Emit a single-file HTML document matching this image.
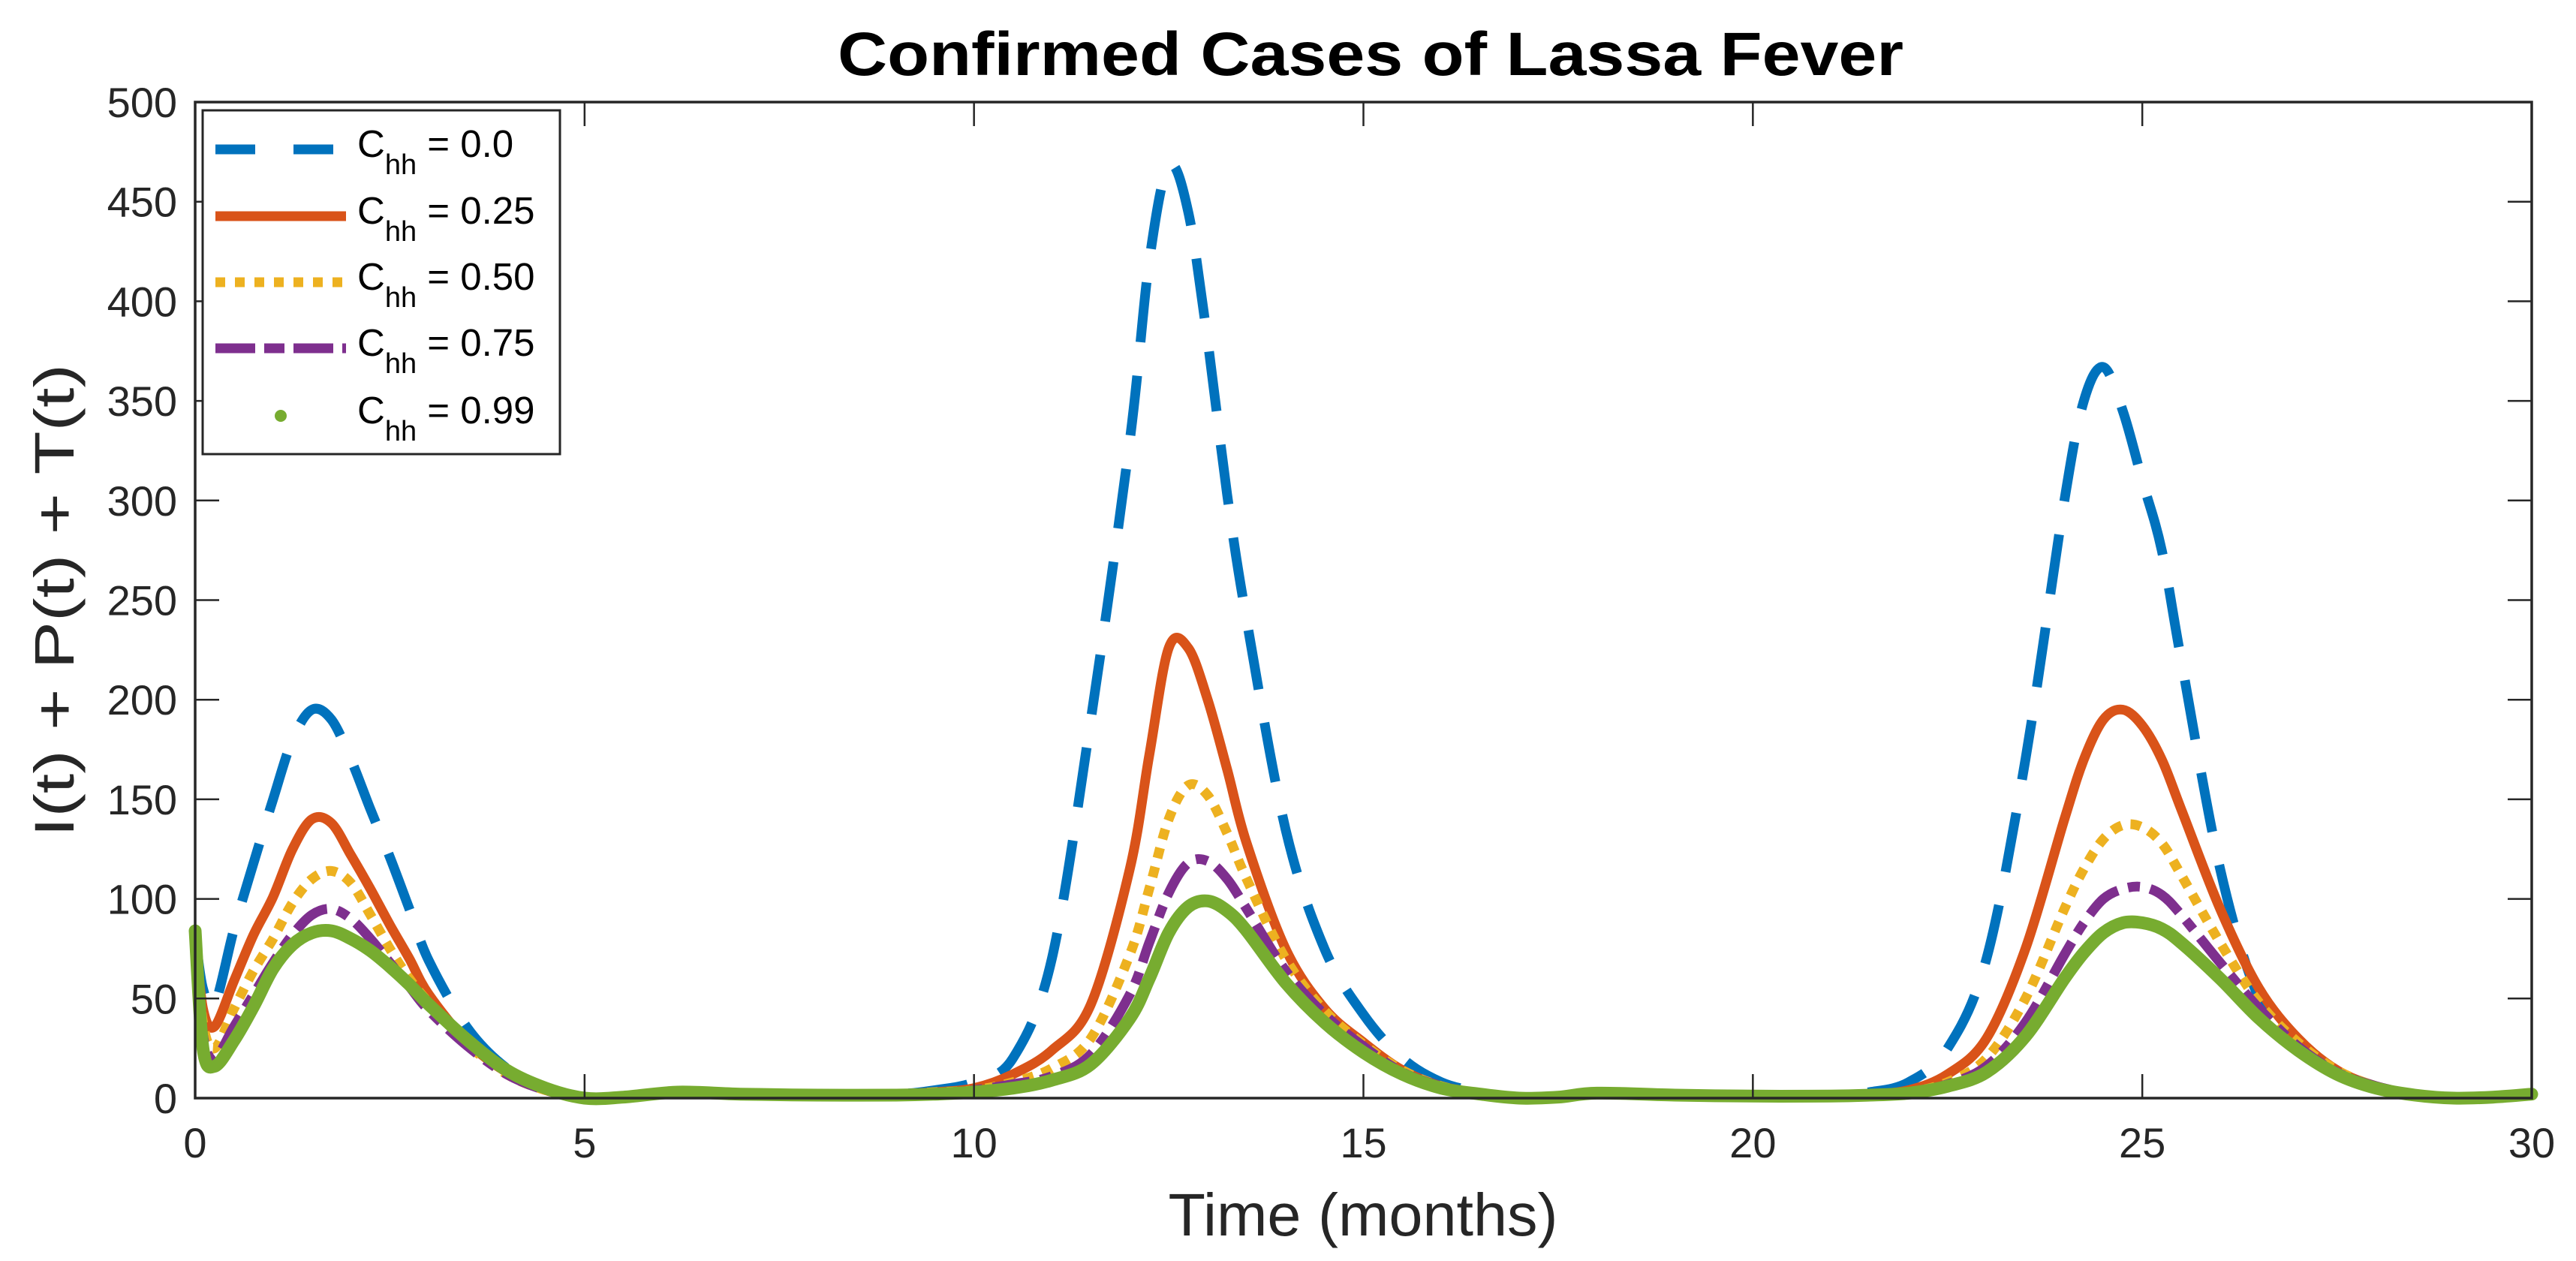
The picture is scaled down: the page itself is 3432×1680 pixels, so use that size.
<!DOCTYPE html>
<html><head><meta charset="utf-8"><style>html,body{margin:0;padding:0;background:#fff}svg{display:block}text{font-family:"Liberation Sans",sans-serif;fill:#262626}</style></head>
<body>
<svg id="chart" width="3432" height="1680" viewBox="0 0 3432 1680" xmlns="http://www.w3.org/2000/svg">
<rect width="3432" height="1680" fill="#fff"/>
<text x="1826" y="100" text-anchor="middle" font-size="82" font-weight="bold" textLength="1420" lengthAdjust="spacingAndGlyphs" style="fill:#000">Confirmed Cases of Lassa Fever</text>
<g id="series"></g>
<g id="axes"></g>
<text x="1816" y="1646" text-anchor="middle" font-size="80" textLength="519" lengthAdjust="spacingAndGlyphs">Time (months)</text>
<text transform="translate(98,800) rotate(-90)" text-anchor="middle" font-size="74" textLength="630" lengthAdjust="spacingAndGlyphs">I(t) + P(t) + T(t)</text>
<g id="legend"></g>
</svg>
<script>
const times=[0,0.1,0.25,0.5,0.75,1,1.25,1.5,1.75,2,2.25,2.5,2.75,3,3.5,4,4.5,5,5.5,6.2,7,8,9,9.5,10,10.5,11,11.5,12,12.25,12.5,12.75,13,13.25,13.5,14,14.5,15,15.5,16,16.5,17,17.5,18,19,20,21,21.5,22,22.5,23,23.5,24,24.25,24.5,24.75,25,25.25,25.5,26,26.5,27,27.5,28,28.5,29,29.5,30];
const seriesC000=[82,55,47,85,118,150,180,195,190,170,145,121,95,69,35,15,5,0.5,0.5,3,2,1.5,2,4,8,20,70,190,330,420,468,445,380,303,240,135,75,42,20,8,3,0.5,1,2.5,1.5,1,1.5,3,8,25,70,170,300,350,367,345,310,275,220,115,50,28,14,6,2,0.5,1,2];
const seriesC025=[82,45,36,59,82,101,125,140,138,122,105,87,70,52,28,13,4,0.5,0.5,3,2,1.5,2,3,5,12,24,47,115,172,226,226,200,165,128,75,45,28,14,6,2.5,0.5,1,2.5,1.5,1,1.5,2,4,12,30,75,140,170,190,195,187,170,145,95,55,30,14,6,2,0.5,1,2];
const seriesC050=[82,38,25,45,64,80,98,110,114,108,92,75,60,48,27,12,4,0.5,0.5,3,2,1.5,2,3,4,8,15,30,72,105,140,157,152,133,110,70,44,27,14,6,2.5,0.5,1,2.5,1.5,1,1.5,2,3,8,20,50,95,115,130,137,136,128,112,78,48,28,14,6,2,0.5,1,2];
const seriesC075=[82,32,20,36,52,68,82,92,95,90,80,68,56,44,26,12,4,0.5,0.5,3,2,1.5,2,2.5,4,7,11,22,52,78,103,118,119,110,95,64,42,26,13,6,2.5,0.5,1,2.5,1.5,1,1.5,2,3,7,16,38,72,88,100,105,106,102,92,68,45,26,13,6,2,0.5,1,2];
const seriesC099=[84,25,16,29,46,65,77,83,84,80,74,66,57,47,29,14,5,0,0.5,3,2,1.5,1.5,2,3,5,9,17,40,60,83,96,99,94,84,58,38,23,12,5,2,0,0.5,2.5,1.5,1,1,1.5,2.5,6,13,31,60,73,83,88,88,85,78,60,40,24,12,5,1.5,0,0.5,2];
const xTicks=[0,5,10,15,20,25,30];
const yTicks=[0,50,100,150,200,250,300,350,400,450,500];
const legendLabels=["0.0","0.25","0.50","0.75","0.99"];

const NS="http://www.w3.org/2000/svg";
const X0=260,X1=3373,Y0=1463,Y1=136;
const xMax=30,yMax=500;
const sx=t=>X0+(t/xMax)*(X1-X0);
const sy=v=>Y0-(v/yMax)*(Y0-Y1);
function mk(tag,attrs,parent){const e=document.createElementNS(NS,tag);for(const k in attrs)e.setAttribute(k,attrs[k]);parent.appendChild(e);return e;}
function pathFor(ts,vs){
  const p=ts.map((t,i)=>[sx(t),sy(vs[i])]);
  let d="M"+p[0][0].toFixed(1)+","+p[0][1].toFixed(1);
  for(let i=0;i<p.length-1;i++){
    const p0=p[Math.max(0,i-1)],p1=p[i],p2=p[i+1],p3=p[Math.min(p.length-1,i+2)];
    const c1x=p1[0]+(p2[0]-p0[0])/6,c1y=p1[1]+(p2[1]-p0[1])/6;
    const c2x=p2[0]-(p3[0]-p1[0])/6,c2y=p2[1]-(p3[1]-p1[1])/6;
    d+="C"+c1x.toFixed(1)+","+c1y.toFixed(1)+" "+c2x.toFixed(1)+","+c2y.toFixed(1)+" "+p2[0].toFixed(1)+","+p2[1].toFixed(1);
  }
  return d;
}
const styles=[
 {data:seriesC000,color:"#0072BD",w:13,dash:"80 45",ldash:"53 51",cap:"butt"},
 {data:seriesC025,color:"#D95319",w:13,dash:"",ldash:"",cap:"butt"},
 {data:seriesC050,color:"#EDB120",w:13,dash:"14 12",ldash:"13 13",cap:"butt"},
 {data:seriesC075,color:"#7E2F8E",w:13,dash:"50 14 16 14",ldash:"53 12 27 12",cap:"butt"},
 {data:seriesC099,color:"#77AC30",w:17,dash:"",ldash:"",cap:"round"}
];
const sg=document.getElementById("series");
styles.forEach((s,i)=>{
  const el=mk("path",{d:pathFor(times,s.data),fill:"none",stroke:s.color,"stroke-width":s.w,"stroke-linecap":s.cap,"stroke-linejoin":"round"},sg);
  if(s.dash)el.setAttribute("stroke-dasharray",s.dash);
  
  
});
const ax=document.getElementById("axes");
const ac="#262626";
const frame=mk("rect",{x:X0,y:Y1,width:X1-X0,height:Y0-Y1,fill:"none",stroke:ac,"stroke-width":3.5},ax);


xTicks.forEach(t=>{
  const x=sx(t);
  mk("line",{x1:x,y1:Y0,x2:x,y2:Y0-32,stroke:ac,"stroke-width":2.5},ax);
  mk("line",{x1:x,y1:Y1,x2:x,y2:Y1+32,stroke:ac,"stroke-width":2.5},ax);
  const tx=mk("text",{x:x,y:1542,"text-anchor":"middle","font-size":56},ax);
  tx.textContent=t;
  
  
});
yTicks.forEach(v=>{
  const y=sy(v);
  mk("line",{x1:X0,y1:y,x2:X0+32,y2:y,stroke:ac,"stroke-width":2.5},ax);
  mk("line",{x1:X1,y1:y,x2:X1-32,y2:y,stroke:ac,"stroke-width":2.5},ax);
  const tx=mk("text",{x:236,y:y+20,"text-anchor":"end","font-size":56},ax);
  tx.textContent=v;
  
  
});
const lg=document.getElementById("legend");
const box=mk("rect",{x:270,y:147,width:476,height:458,fill:"#fff",stroke:ac,"stroke-width":3},lg);


const rowY=[199,288,376,464,554];
styles.forEach((s,i)=>{
  const g=mk("g",{},lg);
  
  
  const y=rowY[i];
  if(i===4){mk("circle",{cx:374,cy:y,r:8,fill:s.color},g);}
  else{const l=mk("line",{x1:287,y1:y,x2:461,y2:y,stroke:s.color,"stroke-width":s.w},g);if(s.ldash)l.setAttribute("stroke-dasharray",s.ldash);}
  const t=mk("text",{x:476,y:y+10,"font-size":51},g);
  t.innerHTML='C<tspan font-size="38" dy="23">hh</tspan><tspan dy="-23"> = '+legendLabels[i]+'</tspan>';
  t.setAttribute('style','fill:#000');
});
</script>
</body></html>
